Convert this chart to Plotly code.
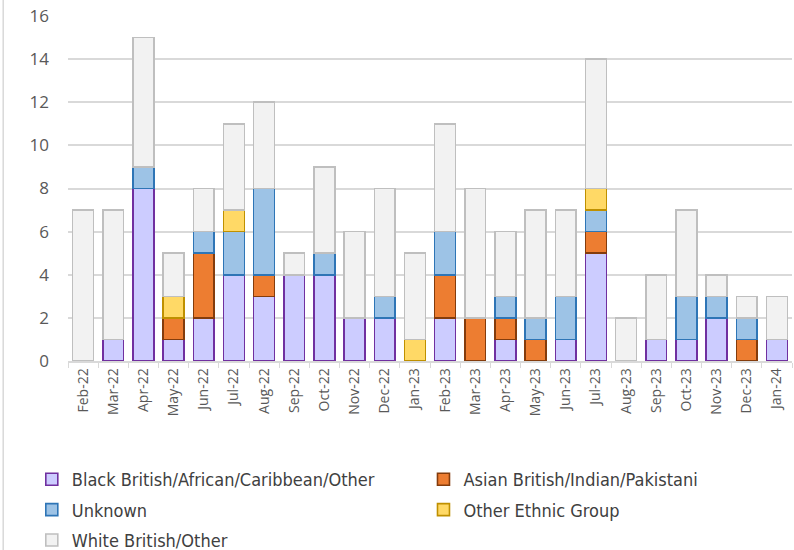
import plotly.graph_objects as go

months = ["Feb-22", "Mar-22", "Apr-22", "May-22", "Jun-22", "Jul-22", "Aug-22", "Sep-22",
          "Oct-22", "Nov-22", "Dec-22", "Jan-23", "Feb-23", "Mar-23", "Apr-23", "May-23",
          "Jun-23", "Jul-23", "Aug-23", "Sep-23", "Oct-23", "Nov-23", "Dec-23", "Jan-24"]

black = [0, 1, 8, 1, 2, 4, 3, 4, 4, 2, 2, 0, 2, 0, 1, 0, 1, 5, 0, 1, 1, 2, 0, 1]
asian = [0, 0, 0, 1, 3, 0, 1, 0, 0, 0, 0, 0, 2, 2, 1, 1, 0, 1, 0, 0, 0, 0, 1, 0]
unknown = [0, 0, 1, 0, 1, 2, 4, 0, 1, 0, 1, 0, 2, 0, 1, 1, 2, 1, 0, 0, 2, 1, 1, 0]
other = [0, 0, 0, 1, 0, 1, 0, 0, 0, 0, 0, 1, 0, 0, 0, 0, 0, 1, 0, 0, 0, 0, 0, 0]
white = [7, 6, 6, 2, 2, 4, 4, 1, 4, 4, 5, 4, 5, 6, 3, 5, 4, 6, 2, 3, 4, 1, 1, 2]

series = [
    ("Black British/African/Caribbean/Other", black, "#ccccff", "#7030a0", "legend"),
    ("Asian British/Indian/Pakistani", asian, "#ed7d31", "#843c0c", "legend2"),
    ("Unknown", unknown, "#9dc3e6", "#2e75b6", "legend"),
    ("Other Ethnic Group", other, "#ffd966", "#bf9000", "legend2"),
    ("White British/Other", white, "#f2f2f2", "#bfbfbf", "legend"),
]

fig = go.Figure()
for name, vals, fill, line, lg in series:
    fig.add_trace(go.Bar(
        x=months, y=vals, name=name, legend=lg, legendgroup=name,
        marker=dict(color=fill, line=dict(color=line, width=1.6)),
    ))

legend_font = "Liberation Sans Narrow, DejaVu Sans Condensed, Noto Sans, sans-serif"
tick_font = "Open Sans, Noto Sans, sans-serif"

legend_common = dict(
    orientation="v",
    yanchor="top",
    traceorder="grouped",
    font=dict(family=legend_font, size=18, color="#404040"),
    tracegroupgap=4,
    bgcolor="rgba(0,0,0,0)",
)

fig.update_layout(
    barmode="stack",
    bargap=0.31,
    width=794, height=550,
    margin=dict(l=68, r=2, t=16, b=189, autoexpand=False),
    paper_bgcolor="white",
    plot_bgcolor="white",
    showlegend=True,
    legend=dict(x=-0.05, y=-0.29, **legend_common),
    legend2=dict(x=0.491, y=-0.29, **legend_common),
    xaxis=dict(
        type="category",
        tickangle=-90,
        tickfont=dict(family=tick_font, size=14, color="#595959"),
        showline=True, linecolor="#d9d9d9", linewidth=1.5,
        ticks="outside", tickson="boundaries", ticklen=5, tickcolor="#d9d9d9",
        showgrid=False,
        automargin=False,
    ),
    yaxis=dict(
        range=[0, 16], dtick=2,
        tickfont=dict(family=tick_font, size=17, color="#595959"),
        showgrid=True, gridcolor="#d9d9d9", gridwidth=1.5,
        zeroline=False,
        showline=False,
        ticks="",
        ticklabelstandoff=18,
        automargin=False,
    ),
    shapes=[dict(
        type="line", xref="paper", yref="paper",
        x0=-0.0895, x1=-0.0895, y0=-0.6, y1=1.1,
        line=dict(color="#d9d9d9", width=1.5),
    )],
)

fig.write_html("out.html", config={"displayModeBar": False},
               post_script="document.body.style.margin='0px';")
